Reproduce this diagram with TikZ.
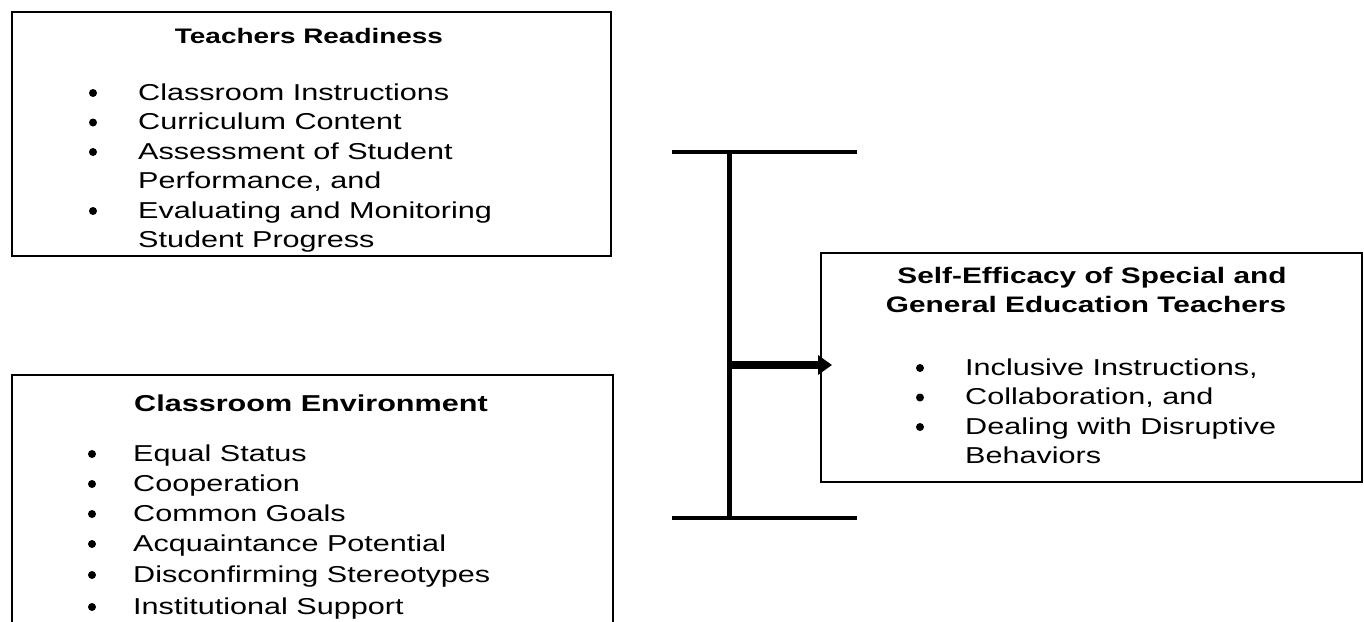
\documentclass[tikz,border=0pt]{standalone}
\usepackage{fontspec}
\setmainfont{Liberation Sans}[FakeStretch=1.33]
\usetikzlibrary{arrows.meta}
\begin{document}
\begin{tikzpicture}[x=1pt,y=-1pt,
  box/.style={draw,line width=2.6pt,inner sep=0pt,outer sep=0pt,anchor=north west},
  ttl/.style={font=\fontsize{21}{25}\selectfont\bfseries,inner sep=0pt,anchor=base},
  itm/.style={font=\fontsize{23}{27}\selectfont,inner sep=0pt,anchor=base west},
  bul/.style={circle,fill,inner sep=0pt,minimum size=8pt},
  barline/.style={line width=4pt},
  stem/.style={line width=5pt},
  arr/.style={line width=8pt,-{Triangle[length=14pt,width=19pt]}}
]
\useasboundingbox (0,0) rectangle (1364,621);
\clip (0,0) rectangle (1364,621);

% Box 1
\node[box,minimum width=599pt,minimum height=244pt] (tr) at (12,12) {};
\node[ttl] (trt) at (309,43) {Teachers Readiness};
\node[bul] (trb1) at (93,93) {};
\node[itm] (tri1) at (138,100) {Classroom Instructions};
\node[bul] (trb2) at (93,122.5) {};
\node[itm] (tri2) at (138,129.5) {Curriculum Content};
\node[bul] (trb3) at (93,152) {};
\node[itm] (tri3) at (138,159) {Assessment of Student};
\node[itm] (tri3b) at (138,188.5) {Performance, and};
\node[bul] (trb4) at (93,211) {};
\node[itm] (tri4) at (138,218) {Evaluating and Monitoring};
\node[itm] (tri4b) at (138,247.5) {Student Progress};

% Box 2
\node[box,minimum width=601pt,minimum height=300pt] (ce) at (12,375) {};
\node[ttl,font=\fontsize{23}{27}\selectfont\bfseries] (cet) at (311,411) {Classroom Environment};
\node[bul] (ceb1) at (92,454) {};
\node[itm] (cei1) at (133,461) {Equal Status};
\node[bul] (ceb2) at (92,484) {};
\node[itm] (cei2) at (133,491) {Cooperation};
\node[bul] (ceb3) at (92,514) {};
\node[itm] (cei3) at (133,521) {Common Goals};
\node[bul] (ceb4) at (92,544) {};
\node[itm] (cei4) at (133,551) {Acquaintance Potential};
\node[bul] (ceb5) at (92,575) {};
\node[itm] (cei5) at (133,582) {Disconfirming Stereotypes};
\node[bul] (ceb6) at (92,607) {};
\node[itm] (cei6) at (133,614) {Institutional Support};

% Box 3
\node[box,minimum width=541pt,minimum height=229pt] (se) at (821,253) {};
\node[ttl,font=\fontsize{22.4}{27}\selectfont\bfseries] (set1) at (1092,283) {Self-Efficacy of Special and};
\node[ttl,font=\fontsize{22.4}{27}\selectfont\bfseries] (set2) at (1086,312) {General Education Teachers};
\node[bul] (seb1) at (920,368) {};
\node[itm] (sei1) at (965,375) {Inclusive Instructions,};
\node[bul] (seb2) at (920,397.5) {};
\node[itm] (sei2) at (965,404.5) {Collaboration, and};
\node[bul] (seb3) at (920,427) {};
\node[itm] (sei3) at (965,434) {Dealing with Disruptive};
\node[itm] (sei3b) at (965,463) {Behaviors};

% Bracket
\coordinate (tl) at (672,152);
\coordinate (trr) at (857,152);
\coordinate (bl) at (672,518);
\coordinate (brr) at (857,518);
\coordinate (st) at (729,152);
\coordinate (sb) at (729,518);
\coordinate (sm) at (729,365);
\draw[barline] (tl) -- (trr);
\draw[barline] (bl) -- (brr);
\draw[stem] (st) -- (sb);
\draw[arr,shorten >=-11pt] (sm) -- (sm -| se.west);
\end{tikzpicture}
\end{document}
